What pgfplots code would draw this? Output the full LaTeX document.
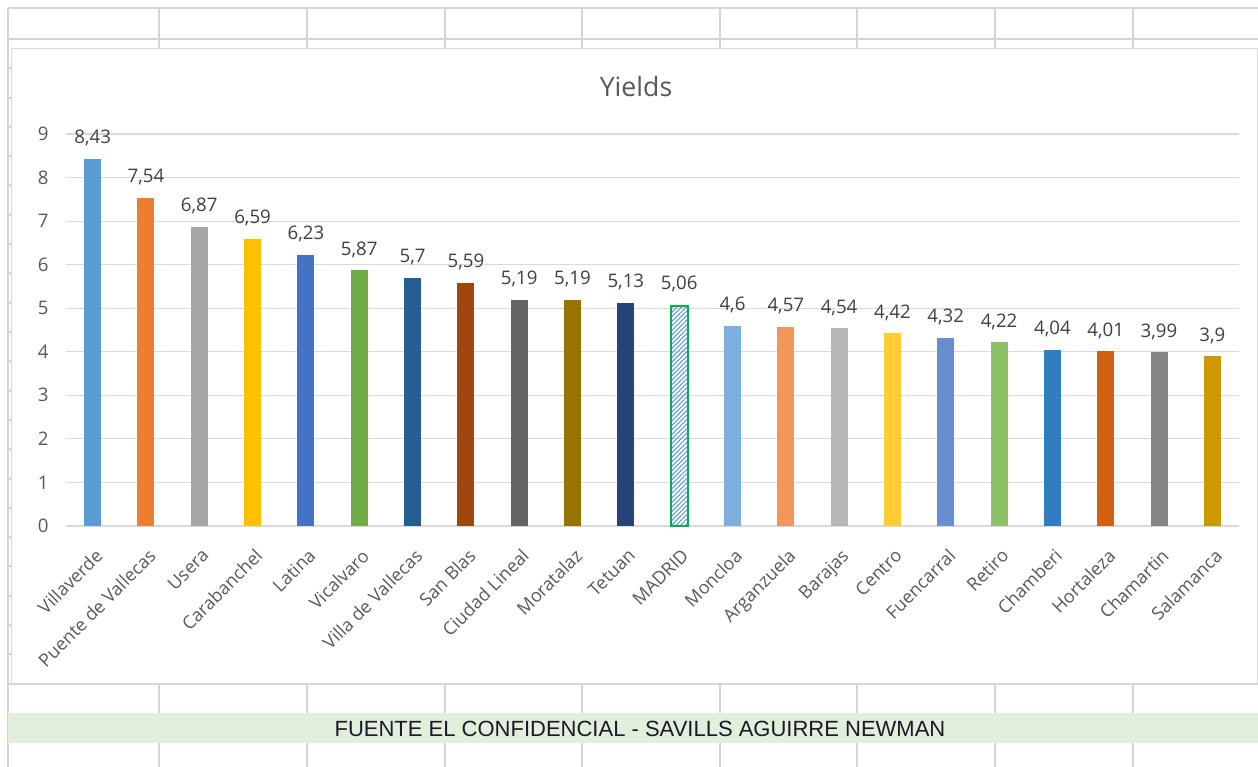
\documentclass[border=0pt]{standalone}
\usepackage{fontspec}
\setmainfont{Open Sans}
\newfontfamily\bandfont{Liberation Sans}
\usepackage{pgfplots}
\pgfplotsset{compat=1.18}
\usetikzlibrary{patterns.meta}

% sheet and chart chrome
\definecolor{cellline}{HTML}{D4D4D4}
\definecolor{chartline}{HTML}{D9D9D9}
\definecolor{gridc}{HTML}{D9D9D9}
\definecolor{axistext}{HTML}{595959}
\definecolor{valtext}{HTML}{404040}
\definecolor{bandgreen}{HTML}{E2EFDA}
\definecolor{bandtext}{HTML}{1A1A2A}
\definecolor{madridedge}{HTML}{00B050}

% one colour per district
\definecolor{c01}{HTML}{5B9BD5}
\definecolor{c02}{HTML}{ED7D31}
\definecolor{c03}{HTML}{A5A5A5}
\definecolor{c04}{HTML}{FFC000}
\definecolor{c05}{HTML}{4472C4}
\definecolor{c06}{HTML}{70AD47}
\definecolor{c07}{HTML}{255E91}
\definecolor{c08}{HTML}{9E480E}
\definecolor{c09}{HTML}{636363}
\definecolor{c10}{HTML}{997300}
\definecolor{c11}{HTML}{264478}
\definecolor{c12}{HTML}{5B9BD5}
\definecolor{c13}{HTML}{7CAFDD}
\definecolor{c14}{HTML}{F1975A}
\definecolor{c15}{HTML}{B7B7B7}
\definecolor{c16}{HTML}{FFCD33}
\definecolor{c17}{HTML}{698ED0}
\definecolor{c18}{HTML}{8CC168}
\definecolor{c19}{HTML}{327DC2}
\definecolor{c20}{HTML}{D26012}
\definecolor{c21}{HTML}{848484}
\definecolor{c22}{HTML}{CC9A00}

\pgfplotsset{
  district/.style={fill=#1, draw=none, bar shift=0pt},
}

\newcommand\lblfont{\fontsize{14pt}{16pt}\selectfont}
\newcommand\catfont{\fontsize{13.5pt}{16pt}\selectfont}

\begin{document}
\begin{tikzpicture}
\useasboundingbox (0,0) rectangle (943.5pt,575.25pt);
\fill[white] (0,0) rectangle (943.5pt,575.25pt);

% spreadsheet cells, in screen pixels (y downward)
\begin{scope}[x=0.75pt,y=-0.75pt,yshift=575.25pt]
  \begin{scope}[draw=cellline, line width=1.1pt]
    \draw (8,8) -- (1258,8);
    \draw (8,39) -- (1258,39);
    \draw (8,684) -- (1258,684);
    \draw (8,8) -- (8,767);
    \foreach \cx in {159,307,445,582,720,857,995,1133} {
      \draw (\cx,8) -- (\cx,49);
      \draw (\cx,684) -- (\cx,713);
      \draw (\cx,743) -- (\cx,767);
    }
    \foreach \ry in {68,98,127,156,185,215,244,273,303,332,361,391,420,449,479,508,537,566,596,625,654}
      \draw (8,\ry) -- (11,\ry);
  \end{scope}
  % chart frame
  \draw[chartline, line width=0.75pt] (11,49) rectangle (1257,684);
  % source band
  \fill[bandgreen] (8,713) rectangle (1258,743);
  \node[anchor=base, text=bandtext, inner sep=0pt,
        font=\bandfont\fontsize{16.5pt}{18pt}\selectfont] at (640,737)
        {FUENTE EL CONFIDENCIAL - SAVILLS AGUIRRE NEWMAN};
  % chart title
  \node[anchor=base, text=axistext, inner sep=0pt,
        font=\fontsize{20pt}{24pt}\selectfont] at (636,97) {Yields};
\end{scope}

\begin{axis}[
  at={(49.5pt,180.75pt)}, anchor=south west,
  scale only axis, width=879.75pt, height=294pt,
  xmin=-0.5, xmax=21.5, ymin=0, ymax=9,
  enlargelimits=false, clip=false,
  ytick={0,...,9}, xtick={0,...,21},
  xticklabels={Villaverde,Puente de Vallecas,Usera,Carabanchel,Latina,Vicalvaro,
    Villa de Vallecas,San Blas,Ciudad Lineal,Moratalaz,Tetuan,MADRID,Moncloa,
    Arganzuela,Barajas,Centro,Fuencarral,Retiro,Chamberi,Hortaleza,Chamartin,Salamanca},
  ybar, bar width=12.75pt,
  axis line style={draw=none},
  major tick length=0pt,
  ymajorgrids, grid style={gridc, line width=0.8pt},
  tick label style={font=\lblfont, text=axistext},
  yticklabel style={xshift=-9.5pt},
  xticklabel style={font=\catfont, xshift=1pt, yshift=-16pt, rotate=45, anchor=north east, inner sep=0pt},
  nodes near coords,
  every node near coord/.append style={font=\lblfont, text=valtext, yshift=6pt},
  /pgf/number format/.cd, use comma, assume math mode=true,
]
\addplot[district=c01] coordinates {(0,8.43)};
\addplot[district=c02] coordinates {(1,7.54)};
\addplot[district=c03] coordinates {(2,6.87)};
\addplot[district=c04] coordinates {(3,6.59)};
\addplot[district=c05] coordinates {(4,6.23)};
\addplot[district=c06] coordinates {(5,5.87)};
\addplot[district=c07] coordinates {(6,5.70)};
\addplot[district=c08] coordinates {(7,5.59)};
\addplot[district=c09] coordinates {(8,5.19)};
\addplot[district=c10] coordinates {(9,5.19)};
\addplot[district=c11] coordinates {(10,5.13)};
% city average: hatched with a green outline
\addplot[bar shift=0pt, draw=madridedge, line width=1.5pt,
  pattern={Lines[angle=45,distance=2.4pt,line width=0.8pt]}, pattern color=c12]
  coordinates {(11,5.06)};
\addplot[district=c13] coordinates {(12,4.60)};
\addplot[district=c14] coordinates {(13,4.57)};
\addplot[district=c15] coordinates {(14,4.54)};
\addplot[district=c16] coordinates {(15,4.42)};
\addplot[district=c17] coordinates {(16,4.32)};
\addplot[district=c18] coordinates {(17,4.22)};
\addplot[district=c19] coordinates {(18,4.04)};
\addplot[district=c20] coordinates {(19,4.01)};
\addplot[district=c21] coordinates {(20,3.99)};
\addplot[district=c22] coordinates {(21,3.90)};
\end{axis}
\end{tikzpicture}
\end{document}
